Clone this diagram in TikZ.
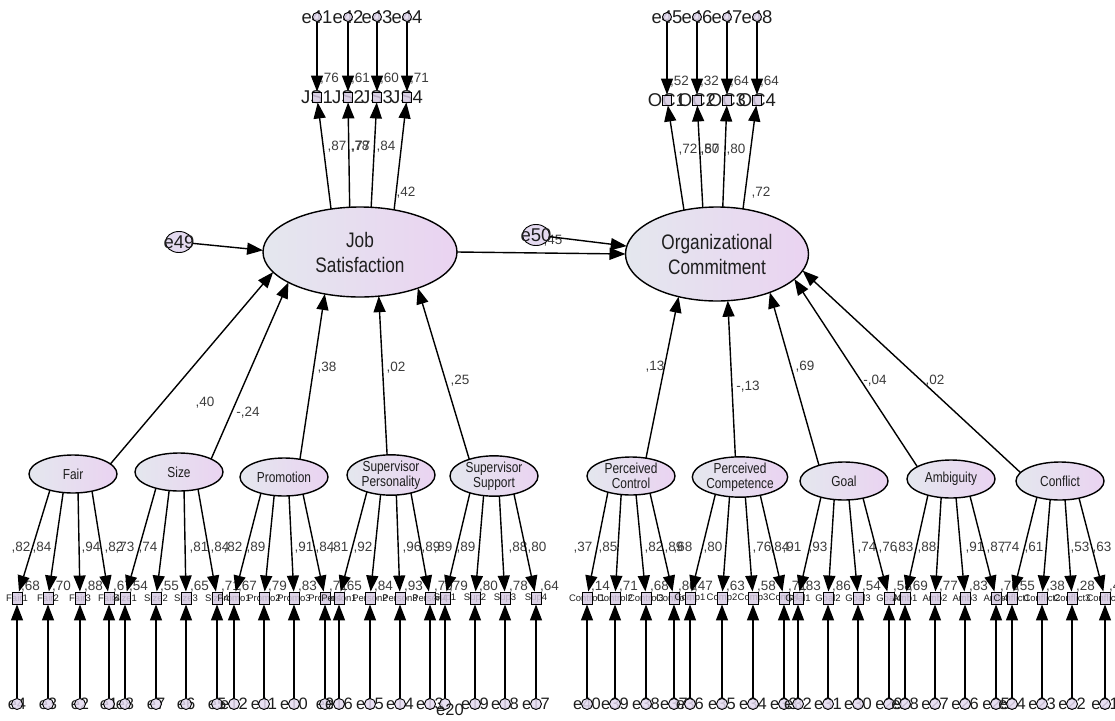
\documentclass[tikz,border=0pt]{standalone}
\usepackage{fontspec}
\setmainfont{Liberation Sans}
\newfontfamily\narrowsans[FakeStretch=0.82]{Liberation Sans}
\usetikzlibrary{arrows.meta,shapes.geometric}

\definecolor{latL}{HTML}{E4E7EE}
\definecolor{latR}{HTML}{EAD3F1}
\definecolor{boxF}{HTML}{D6CAE2}
\definecolor{errF}{HTML}{E4DAF0}
\definecolor{numC}{HTML}{3C3C3C}
\definecolor{txtC}{HTML}{1E1E1E}

\begin{document}
\begin{tikzpicture}[x=1pt,y=-1pt,
  lat/.style={ellipse,draw=black,line width=1.4pt,inner sep=0pt,outer sep=0pt,
              left color=latL,right color=latR,text=txtC,align=center},
  biglat/.style={lat,font=\narrowsans\fontsize{21}{25}\selectfont},
  smlat/.style={lat,minimum width=88pt,minimum height=38pt,
                font=\narrowsans\fontsize{14.5}{15}\selectfont},
  obs/.style={rectangle,draw=black,line width=0.9pt,fill=boxF,fill opacity=0.85,
              minimum width=10pt,minimum height=12pt,inner sep=0pt},
  errc/.style={circle,draw=black,line width=0.9pt,fill=errF,fill opacity=0.85,
               minimum size=11pt,inner sep=0pt},
  errbig/.style={ellipse,draw=black,line width=0.9pt,fill=errF,
                 minimum width=27pt,minimum height=21pt,inner sep=0pt},
  arr/.style={line width=1.4pt,-{Triangle[length=16pt,width=12pt]}},
  num/.style={font=\fontsize{13.5}{14}\selectfont,text=numC,inner sep=0pt},
  toptxt/.style={font=\fontsize{18.5}{19}\selectfont,text=txtC,inner sep=0pt},
  indtxt/.style={font=\fontsize{9.5}{10}\selectfont,text=txtC,inner sep=0pt},
  bottxt/.style={font=\fontsize{16.5}{17}\selectfont,text=txtC,inner sep=0pt},
]
\useasboundingbox (0,0) rectangle (1115,720);

% ---------- endogenous latent variables ----------
\node[biglat,minimum width=194pt,minimum height=90pt] (JS) at (360,252) {Job\\Satisfaction};
\node[biglat,minimum width=183pt,minimum height=94pt] (OC) at (717,254) {Organizational\\Commitment};

% ---------- exogenous latent variables ----------
\node[smlat] (Fair)     at (73,474)   {Fair};
\node[smlat] (Size)     at (179,472)  {Size};
\node[smlat] (Promo)    at (284,477)  {Promotion};
\node[smlat] (Person)   at (391,475)  {Supervisor\\Personality};
\node[smlat] (Sup)      at (494,476)  {Supervisor\\Support};
\node[smlat] (PC)       at (631,476)  {Perceived\\Control};
\node[smlat] (Comp)     at (740,477)  {Perceived\\Competence};
\node[smlat] (Goal)     at (844,481)  {Goal};
\node[smlat] (Amb)      at (951,479)  {Ambiguity};
\node[smlat] (Conflict) at (1060,481) {Conflict};

% ---------- disturbances ----------
\node[errbig] (e49) at (179,242) {};
\node[toptxt] at (179,242) {e49};
\node[num] (r45) at (553,241) {,45};
\node[errbig] (e50) at (536,235) {};
\node[toptxt] at (536,235) {e50};

% ---------- indicators of the two outcomes (top) ----------
\foreach \g/\k/\bx/\by/\ind/\er/\sm/\an in {
  JS/1/317/97/JS1/e41/76/124, JS/2/348/97/JS2/e42/61/103,
  JS/3/377/97/JS3/e43/60/76,  JS/4/407/97/JS4/e44/71/51,
  OC/1/667/100/OC1/e45/52/127, OC/2/697/100/OC2/e46/32/107,
  OC/3/727/100/OC3/e47/64/83,  OC/4/757/100/OC4/e48/64/60}{
  \node[num,anchor=west] at (\bx+3,\by-18) {,\sm};
  \node[toptxt] at (\bx,\by) {\ind};
  \node[obs,minimum width=9pt,minimum height=10pt] (\g\k) at (\bx,\by) {};
  \node[toptxt] at (\bx,17) {\er};
  \node[errc,minimum size=9pt] (\g e\k) at (\bx,17) {};
  \draw[arr] (\g e\k) -- (\g\k);
  \draw[arr] (\g.\an) -- (\g\k);
}

% loadings and squared correlations of the outcomes
\node[num] at (337,147) {,87};
\node[num] at (360,147) {,78};
\node[num] at (361,147) {,77};
\node[num] at (386,147) {,84};
\node[num] at (406,193) {,42};
\node[num] at (688,150) {,72};
\node[num] at (710,150) {,57};
\node[num] at (710,150) {,80};
\node[num] at (736,150) {,80};
\node[num] at (761,193) {,72};

% ---------- indicators of the predictors (bottom) ----------
\foreach \g/\k/\bx/\ind/\er/\ld/\lx/\sm/\an in {
  Fair/1/17/Fair1/e4/82/21/68/215,   Fair/2/48/Fair2/e3/84/42/70/242,
  Fair/3/80/Fair3/e2/94/91/88/285,   Fair/4/109/Fair4/e1/82/114/67/318,
  Size/1/125/Size1/e8/73/125/54/215, Size/2/156/Size2/e7/74/148/55/242,
  Size/3/186/Size3/e6/81/199/65/285, Size/4/217/Size4/e5/84/220/71/318,
  Promo/1/234/Promo1/e12/82/233/67/215, Promo/2/264/Promo2/e11/89/256/79/242,
  Promo/3/294/Promo3/e10/91/304/83/285, Promo/4/325/Promo4/e9/84/325/71/318,
  Person/1/339/Person1/e16/81/339/65/215, Person/2/370/Person2/e15/92/363/84/242,
  Person/3/400/Person3/e14/96/412/93/285, Person/4/430/Person4/e13/89/431/79/318,
  Sup/1/445/Sup1//89/443/79/215,     Sup/2/475/Sup2/e19/89/466/80/242,
  Sup/3/505/Sup3/e18/88/518/78/285,  Sup/4/536/Sup4/e17/80/537/64/318,
  PC/1/587/Control1/e40/37/583/14/215, PC/2/615/Control2/e39/85/608/71/242,
  PC/3/646/Control3/e38/82/654/68/285, PC/4/674/Control4/e37/89/674/80/318,
  Comp/1/690/Comp1/e36/68/683/47/215, Comp/2/722/Comp2/e35/80/713/63/242,
  Comp/3/753/Comp3/e34/76/762/58/285, Comp/4/784/Comp4/e33/84/780/71/318,
  Goal/1/798/Goal1/e32/91/792/83/215, Goal/2/828/Goal2/e31/93/818/86/242,
  Goal/3/858/Goal3/e30/74/867/54/285, Goal/4/889/Goal4/e29/76/888/58/318,
  Amb/1/905/Amb1/e28/83/904/69/215,  Amb/2/935/Amb2/e27/88/927/77/242,
  Amb/3/965/Amb3/e26/91/975/83/285,  Amb/4/996/Amb4/e25/87/996/76/318,
  Conflict/1/1012/Conflict1/e24/74/1010/55/215, Conflict/2/1042/Conflict2/e23/61/1034/38/242,
  Conflict/3/1072/Conflict3/e22/53/1080/28/285, Conflict/4/1105/Conflict4/e21/63/1102/40/318}{
  \node[num] at (\lx,548) {,\ld};
  \node[num,anchor=west] at (\bx+4,587) {,\sm};
  \node[indtxt] at (\bx,598) {\ind};
  \node[obs] (\g\k) at (\bx,598) {};
  \node[bottxt] at (\bx,704) {\er};
  \node[errc] (\g e\k) at (\bx,704) {};
  \draw[arr] (\g e\k) -- (\g\k);
  \draw[arr] (\g.\an) -- (\g\k);
}
% the name of this disturbance sits just below its circle
\node[bottxt] at (450,710) {e20};

% ---------- structural paths ----------
\draw[arr] (e49) -- (JS.179);
\draw[arr] (e50) -- (OC.175);
\draw[arr] (JS.east) -- (OC.west);

\draw[arr] (Fair.15)    -- (JS.193);
\draw[arr] (Size.22)    -- (JS.203);
\draw[arr] (Promo.48)   -- (JS.230);
\draw[arr] (Person.101) -- (JS.293);
\draw[arr] (Sup.146)    -- (JS.328);

\draw[arr] (PC.50)        -- (OC.228);
\draw[arr] (Comp.103)     -- (OC.283);
\draw[arr] (Goal.148)     -- (OC.324);
\draw[arr] (Amb.160)      -- (OC.342);
\draw[arr] (Conflict.168) -- (OC.349);

% regression weights
\node[num] at (205,403) {,40};
\node[num] at (248,413) {-,24};
\node[num] at (327,368) {,38};
\node[num] at (396,368) {,02};
\node[num] at (460,381) {,25};
\node[num] at (655,367) {,13};
\node[num] at (748,387) {-,13};
\node[num] at (805,367) {,69};
\node[num] at (875,381) {-,04};
\node[num] at (935,381) {,02};
\end{tikzpicture}
\end{document}
